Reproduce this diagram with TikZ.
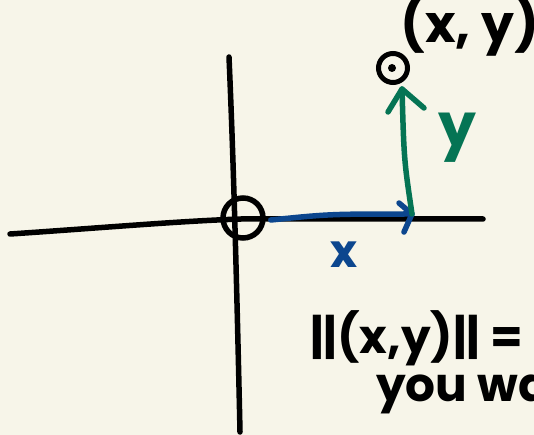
\documentclass[tikz,border=0pt]{standalone}
\usepackage{fontspec}
\setmainfont{Poppins}
\definecolor{bg}{RGB}{247,245,233}
\definecolor{bl}{RGB}{12,70,142}
\definecolor{gr}{RGB}{5,116,84}
\begin{document}
\begin{tikzpicture}[x=1pt,y=-1pt,
  ink/.style={line width=5.5pt, line cap=round, line join=round},
  blink/.style={ink, draw=bl},
  grink/.style={ink, draw=gr},
  hand/.style={inner sep=0pt, anchor=west}]
\fill[bg] (0,0) rectangle (534,435);
\useasboundingbox (0,0) rectangle (534,435);
\clip (0,0) rectangle (534,435);
% axes
\draw[ink] (10,234) .. controls (100,228) and (180,221) .. (241,219) -- (483,219);
\draw[ink] (229,57) .. controls (233,150) and (236,250) .. (240,432);
% origin
\node[draw, circle, line width=5.5pt, minimum size=40pt, inner sep=0pt] (o) at (243,218) {};
% point
\node[draw, circle, line width=5pt, minimum size=29pt, inner sep=0pt] (p) at (393,68) {};
\fill (392,68) circle (4);
\coordinate (xend) at (412,214);
\coordinate (ytip) at (402,89);
% blue arrow
\draw[blink] ([xshift=5pt,yshift=-2pt]o.east) .. controls (330,214) .. (xend);
\draw[blink] (399,203) -- (xend) -- (404,232);
% green arrow
\draw[grink] (xend) .. controls (404,160) .. (ytip);
\draw[grink] (388,112) -- (ytip) -- (424,108);
% labels
\node[hand, text=bl, font=\bfseries\fontsize{46}{46}\selectfont] (lx) at (330,255) {x};
\node[hand, text=gr, font=\bfseries\fontsize{60}{60}\selectfont] (ly) at (438,138) {y};
\node[hand, font=\bfseries\fontsize{52}{52}\selectfont] (pt) at (400,26) {(x, y)};
\node[hand, font=\bfseries\fontsize{47}{47}\selectfont] (nm) at (310,338) {||(x,y)|| =};
\node[hand, font=\bfseries\fontsize{47}{47}\selectfont] (yw) at (376,394) {you wa};
\end{tikzpicture}
\end{document}
